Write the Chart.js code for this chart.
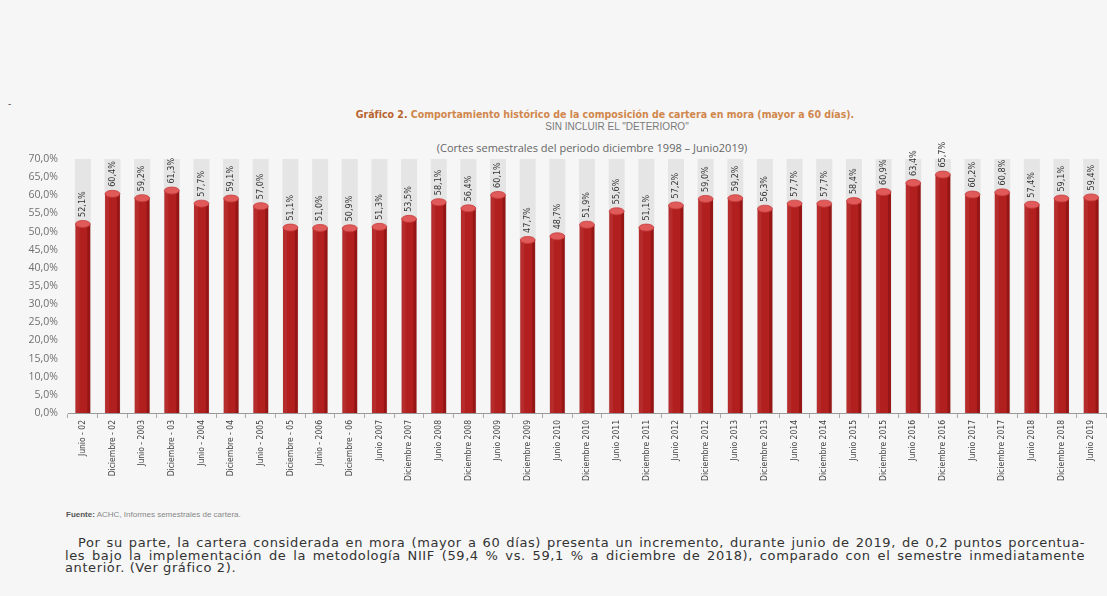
<!DOCTYPE html>
<html lang="es">
<head>
<meta charset="utf-8">
<script src="https://cdn.jsdelivr.net/npm/chart.js@4.4.1/dist/chart.umd.min.js"></script>
<style>
  html, body { margin: 0; padding: 0; }
  body { width: 1107px; height: 596px; overflow: hidden; background: #f6f6f6; position: relative; font-family: "Open Sans", sans-serif; }
  .abs { position: absolute; white-space: nowrap; }
  #dash { left: 8px; top: 96px; font-size: 10px; color: #555; }
  #titulo { left: 305px; top: 108px; width: 600px; text-align: center; font-family: "Liberation Sans Narrow", "DejaVu Sans Condensed", sans-serif; font-size: 10.5px; font-weight: bold; color: #d0874c; }
  #titulo b { color: #b8642e; }
  #sub { left: 417px; top: 121px; width: 400px; text-align: center; font-family: "Liberation Sans Narrow", sans-serif; font-size: 10px; color: #7a7a7a; }
  #cortes { left: 392px; top: 140px; width: 400px; text-align: center; font-size: 11px; color: #666; }
  #wrap { position: absolute; left: 0; top: 140px; width: 1107px; height: 345px; }
  #fuente { left: 66px; top: 510px; font-family: "Liberation Sans Narrow", sans-serif; font-size: 8px; color: #888; }
  #fuente b { color: #555; }
  #parrafo { position: absolute; left: 65px; top: 537px; width: 1020px; font-family: "DejaVu Sans", sans-serif; font-size: 13px; letter-spacing: 0.6px; line-height: 12.5px; color: #333; }
  #parrafo div { text-align: justify; text-align-last: justify; white-space: nowrap; }
  #parrafo div.last { text-align-last: left; }
</style>
</head>
<body>
<div class="abs" id="dash">-</div>
<div class="abs" id="titulo"><b>Gráfico 2.</b> Comportamiento histórico de la composición de cartera en mora (mayor a 60 días).</div>
<div class="abs" id="sub">SIN INCLUIR EL "DETERIORO"</div>
<div class="abs" id="cortes">(Cortes semestrales del periodo diciembre 1998 – Junio2019)</div>
<div id="wrap"><canvas id="grafico"></canvas></div>
<div class="abs" id="fuente"><b>Fuente:</b> ACHC, Informes semestrales de cartera.</div>
<div id="parrafo">
  <div style="padding-left:13px">Por su parte, la cartera considerada en mora (mayor a 60 días) presenta un incremento, durante junio de 2019, de 0,2 puntos porcentua-</div>
  <div>les bajo la implementación de la metodología NIIF (59,4 % vs. 59,1 % a diciembre de 2018), comparado con el semestre inmediatamente</div>
  <div class="last">anterior. (Ver gráfico 2).</div>
</div>
<script>
// Cartera en mora (> 60 días), cortes semestrales
const categorias = [
  "Junio - 02", "Diciembre - 02", "Junio - 2003", "Diciembre - 03", "Junio - 2004",
  "Diciembre - 04", "Junio - 2005", "Diciembre - 05", "Junio - 2006", "Diciembre - 06",
  "Junio 2007", "Diciembre 2007", "Junio 2008", "Diciembre 2008", "Junio 2009",
  "Diciembre 2009", "Junio 2010", "Diciembre 2010", "Junio 2011", "Diciembre 2011",
  "Junio 2012", "Diciembre 2012", "Junio 2013", "Diciembre 2013", "Junio 2014",
  "Diciembre 2014", "Junio 2015", "Diciembre 2015", "Junio 2016", "Diciembre 2016",
  "Junio 2017", "Diciembre 2017", "Junio 2018", "Diciembre 2018", "Junio 2019",
];
const moraPct = [
  52.1, 60.4, 59.2, 61.3, 57.7,
  59.1, 57.0, 51.1, 51.0, 50.9,
  51.3, 53.5, 58.1, 56.4, 60.1,
  47.7, 48.7, 51.9, 55.6, 51.1,
  57.2, 59.0, 59.2, 56.3, 57.7,
  57.7, 58.4, 60.9, 63.4, 65.7,
  60.2, 60.8, 57.4, 59.1, 59.4,
];
const ejeMin = 0;
const ejeMax = 70;
const ejePaso = 5;

const fmt = (v) => v.toFixed(1).replace(".", ",") + "%";
const NARROW = "'Liberation Sans Narrow', 'DejaVu Sans Condensed', sans-serif";

// franjas grises detrás de cada barra
const franjas = {
  id: "franjas",
  beforeDatasetsDraw(chart) {
    const { ctx, chartArea, scales } = chart;
    ctx.save();
    ctx.fillStyle = "#e5e5e5";
    categorias.forEach((_, i) => {
      const x = scales.x.getPixelForValue(i);
      ctx.fillRect(x - 8, chartArea.top, 16, chartArea.bottom - chartArea.top);
    });
    ctx.restore();
  },
};

// efecto cilindro + etiquetas de valor verticales
const cilindros = {
  id: "cilindros",
  afterDatasetsDraw(chart) {
    const { ctx } = chart;
    const meta = chart.getDatasetMeta(0);
    ctx.save();
    meta.data.forEach((bar, i) => {
      const { x, y, base, width } = bar.getProps(["x", "y", "base", "width"], true);
      const r = width / 2;
      ctx.fillStyle = "rgba(80,0,0,0.28)";
      ctx.fillRect(x + r - 3, y, 3, base - y);
      ctx.fillStyle = "rgba(255,255,255,0.06)";
      ctx.fillRect(x - r, y, 4, base - y);
      ctx.beginPath();
      ctx.ellipse(x, y, r, 3.5, 0, 0, Math.PI * 2);
      ctx.fillStyle = "#e05a5a";
      ctx.fill();
      ctx.strokeStyle = "#c63c3c";
      ctx.lineWidth = 0.8;
      ctx.stroke();

      ctx.save();
      ctx.translate(x, y - 7);
      ctx.rotate(-Math.PI / 2);
      ctx.font = "9px " + NARROW;
      ctx.fillStyle = "#333";
      ctx.textAlign = "left";
      ctx.textBaseline = "middle";
      ctx.fillText(fmt(moraPct[i]), 0, 0);
      ctx.restore();
    });
    ctx.restore();
  },
};

new Chart(document.getElementById("grafico"), {
  type: "bar",
  data: {
    labels: categorias,
    datasets: [
      {
        label: "Cartera en mora",
        data: moraPct,
        backgroundColor: "#b21f1f",
        borderWidth: 0,
        barPercentage: 0.5,
        categoryPercentage: 1,
      },
    ],
  },
  options: {
    responsive: true,
    maintainAspectRatio: false,
    animation: false,
    layout: { padding: { top: 19, right: 1, left: 0, bottom: 0 } },
    plugins: {
      legend: { display: false },
      tooltip: { enabled: false },
    },
    scales: {
      x: {
        afterFit(scale) { scale.height = 72; },
        grid: { display: true, drawOnChartArea: false, offset: true, tickLength: 5, color: "#aaa" },
        border: { display: true, color: "#999", width: 1 },
        ticks: {
          autoSkip: false,
          minRotation: 90,
          maxRotation: 90,
          padding: 2,
          color: "#444",
          font: { family: NARROW, size: 8.5 },
        },
      },
      y: {
        min: ejeMin,
        max: ejeMax,
        afterFit(scale) { scale.width = 68; },
        grid: { display: false },
        border: { display: false },
        ticks: {
          stepSize: ejePaso,
          padding: 2,
          color: "#707070",
          font: { family: "'Open Sans', sans-serif", size: 10.5 },
          callback: (v) => fmt(v),
        },
      },
    },
  },
  plugins: [franjas, cilindros],
});
</script>
</body>
</html>
